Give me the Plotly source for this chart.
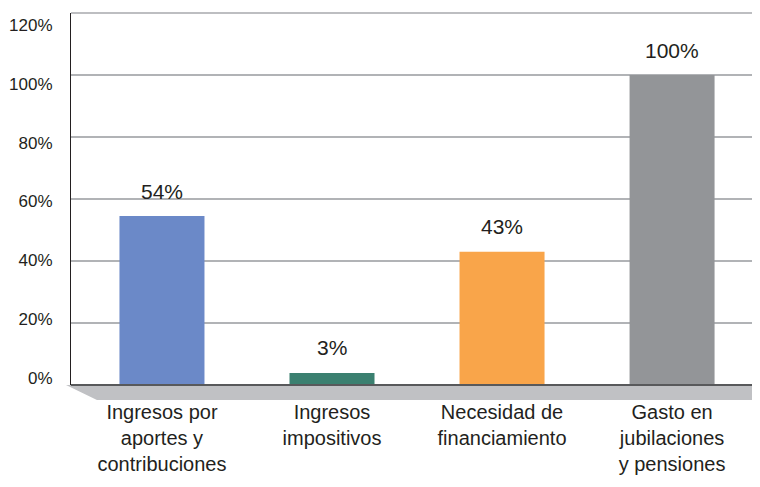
import plotly.graph_objects as go

categorias = ["Ingresos por<br>aportes y<br>contribuciones",
              "Ingresos<br>impositivos",
              "Necesidad de<br>financiamiento",
              "Gasto en<br>jubilaciones<br>y pensiones"]
valores = [54.5, 3.9, 43, 100]
etiquetas = ["54%", "3%", "43%", "100%"]
colores = ["#6b89c8", "#3b8070", "#f9a54a", "#939598"]
y_ticks = [0, 20, 40, 60, 80, 100, 120]
y_ticktext = ["0%", "20%", "40%", "60%", "80%", "100%", "120%"]

FUENTE = "Liberation Sans, Arial, sans-serif"

fig = go.Figure()
fig.add_trace(go.Bar(
    x=list(range(len(categorias))), y=valores,
    marker=dict(color=colores, line=dict(width=0)),
    width=0.5, hoverinfo="skip"
))
# eje auxiliar solo para los rotulos del eje y (desplazados por la perspectiva)
fig.add_trace(go.Scatter(x=[], y=[], yaxis="y2", hoverinfo="skip", showlegend=False))

# etiquetas sobre las barras
for i, (v, t) in enumerate(zip(valores, etiquetas)):
    fig.add_annotation(x=i, y=v, text=t, showarrow=False, yanchor="middle",
                       yshift=25, font=dict(size=21, color="#231f20", family=FUENTE))

# piso y pared derecha (efecto 3D)
fig.add_shape(type="path", xref="paper", yref="paper", layer="below",
              path="M -0.0073,0 L 1.0103,0 L 1.0103,-0.0403 L 0.038,-0.0403 Z",
              fillcolor="#c0c1c4", line=dict(width=0))
fig.add_shape(type="path", xref="paper", yref="paper", layer="below",
              path="M 1,1 L 1.0103,1.013 L 1.0103,-0.0403 L 1,0 Z",
              fillcolor="#c0c1c4", line=dict(width=0))
# borde superior
fig.add_shape(type="line", xref="paper", yref="paper", x0=0, x1=1, y0=1, y1=1,
              line=dict(color="#a7a9ac", width=1.5))
# linea base
fig.add_shape(type="line", xref="paper", yref="paper", x0=0, x1=1, y0=0, y1=0,
              line=dict(color="#58595b", width=2))

# la pagina tiene un margen de 8px, se compensa en el tamaño
fig.update_layout(
    width=752, height=479,
    margin=dict(l=63, r=7, t=5, b=102),
    paper_bgcolor="white", plot_bgcolor="white",
    showlegend=False,
    font=dict(family=FUENTE, color="#231f20"),
    xaxis=dict(range=[-0.535, 3.476], tickvals=list(range(len(categorias))),
               ticktext=categorias, tickfont=dict(size=20), automargin=False,
               showgrid=False, zeroline=False, showline=False,
               ticks="outside", ticklen=9, tickcolor="rgba(0,0,0,0)"),
    yaxis=dict(range=[0, 120], tickvals=y_ticks, showticklabels=False,
               automargin=False, showgrid=True,
               gridcolor="#b1b3b6", gridwidth=1.5, zeroline=False, showline=True,
               linecolor="#231f20", linewidth=1, ticks=""),
    yaxis2=dict(overlaying="y", side="left", range=[-2.38, 124.02],
                tickvals=y_ticks, ticktext=y_ticktext, tickfont=dict(size=17),
                automargin=False, showgrid=False, zeroline=False, showline=False,
                ticks="outside", ticklen=14, tickcolor="rgba(0,0,0,0)"),
)

fig.write_html("out.html")
